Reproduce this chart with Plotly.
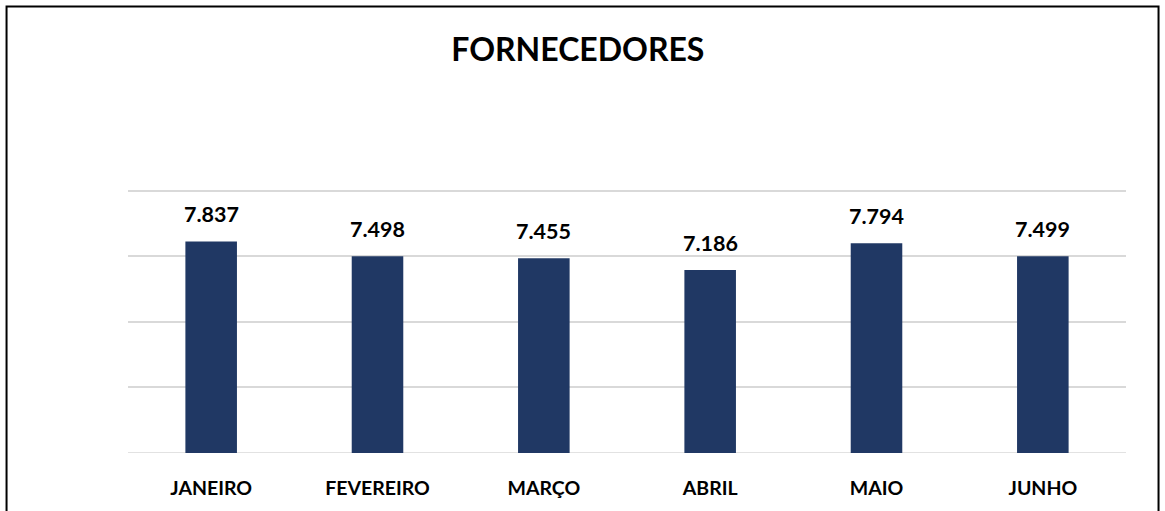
import plotly.graph_objects as go

months = ["JANEIRO", "FEVEREIRO", "MARÇO", "ABRIL", "MAIO", "JUNHO"]
values = [7837, 7498, 7455, 7186, 7794, 7499]
title_text = "FORNECEDORES"

FONT = "Lato"

fig = go.Figure()
fig.add_trace(go.Bar(
    x=months, y=values,
    marker=dict(color="#203864", line=dict(width=0)),
    width=0.31,
    hoverinfo="skip",
))

for m, v in zip(months, values):
    fig.add_annotation(
        x=m, y=v, xref="x", yref="y",
        text="<b>" + f"{v:,}".replace(",", ".") + "</b>",
        showarrow=False, yanchor="bottom", yshift=12,
        font=dict(family=FONT, size=21.5, color="#000000"),
    )

# outer frame (chart area border)
fig.add_shape(type="rect", xref="paper", yref="paper",
              x0=-0.1217, x1=1.0326, y0=-0.25, y1=1.685,
              line=dict(color="#000000", width=2), fillcolor="rgba(0,0,0,0)",
              layer="above")

fig.update_layout(
    width=1165, height=511,
    margin=dict(l=128, r=39, t=188, b=55),
    paper_bgcolor="#ffffff", plot_bgcolor="#ffffff",
    showlegend=False,
    title=dict(text=f"<b>{title_text}</b>", x=0.496, xref="container", xanchor="center",
               y=1 - 50 / 511, yref="container", yanchor="middle",
               font=dict(family=FONT, size=32, color="#000000")),
    font=dict(family=FONT),
    separators=",.",
)
fig.update_xaxes(
    showgrid=False, zeroline=False, showline=False,
    ticks="", ticklabelstandoff=21,
    tickfont=dict(family=FONT, size=19.5, color="#000000", weight="bold"),
)
fig.update_yaxes(
    range=[3000, 9060], tickvals=[3000, 4500, 6000, 7500, 9000],
    showgrid=True, gridcolor="#d9d9d9", gridwidth=1.5,
    zeroline=False, showline=False, showticklabels=False, ticks="",
)
fig.add_hline(y=3000, line=dict(color="#d9d9d9", width=1.5), layer="below")

fig.write_html("out.html", config={"displayModeBar": False},
               post_script="document.body.style.margin='0';")
